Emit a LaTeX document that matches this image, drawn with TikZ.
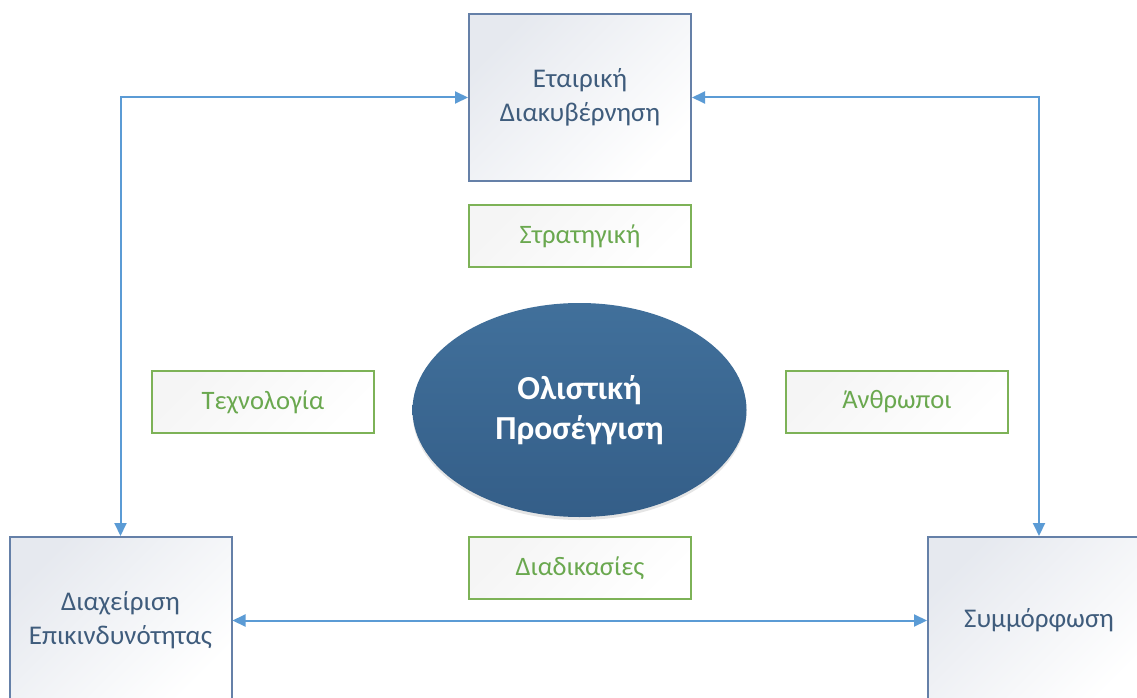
\documentclass[tikz,border=0pt]{standalone}
\usepackage{fontspec}
\setmainfont{Carlito}
\usetikzlibrary{arrows.meta,shapes.geometric,shadows}
\definecolor{arrowblue}{HTML}{5B9BD5}
\definecolor{boxline}{HTML}{6580A8}
\definecolor{boxtext}{HTML}{3F5C7C}
\definecolor{boxtop}{HTML}{E6E9EF}
\definecolor{greenline}{HTML}{7DB257}
\definecolor{greentext}{HTML}{6AA84F}
\definecolor{ovaltop}{HTML}{41709B}
\definecolor{ovalbot}{HTML}{345E88}
\tikzset{
  mainbox/.style={draw=boxline, line width=2pt, minimum width=222pt, minimum height=167pt,
    left color=boxtop, right color=white, shading angle=45,
    text=boxtext, align=center, font=\fontsize{27}{34}\selectfont, inner sep=0pt},
  tagbox/.style={draw=greenline, line width=2pt, minimum width=222pt, minimum height=62pt,
    left color=black!4, right color=white, shading angle=45,
    text=greentext, font=\fontsize{26.6}{32}\selectfont, inner sep=0pt},
  core/.style={ellipse, draw=none, minimum width=334pt, minimum height=214pt,
    top color=ovaltop, bottom color=ovalbot, text=white, align=center,
    font=\bfseries\fontsize{33.6}{40}\selectfont, inner sep=0pt,
    drop shadow={opacity=0.2, shadow xshift=0pt, shadow yshift=-3pt}},
  link/.style={draw=arrowblue, line width=2pt,
    {Triangle[length=13pt,width=12pt]}-{Triangle[length=13pt,width=12pt]}},
}
\begin{document}
\begin{tikzpicture}[x=1pt,y=-1pt]
\clip (0,0) rectangle (1137,698);
\useasboundingbox (0,0) rectangle (1137,698);
\fill[white] (0,0) rectangle (1137,698);

% the three governance areas
\node[mainbox] (gov)  at (580,97.5)   {Εταιρική\\Διακυβέρνηση};
\node[mainbox] (risk) at (120.5,620.5) {Διαχείριση\\Επικινδυνότητας};
\node[mainbox] (comp) at (1039,620.5) {Συμμόρφωση};

% the four pillars around the centre
\node[tagbox] (strat) at (580,236)  {Στρατηγική};
\node[tagbox] (tech)  at (263,402)  {Τεχνολογία};
\node[tagbox] (people) at (897,402) {Άνθρωποι};
\node[tagbox] (proc)  at (580,568)  {Διαδικασίες};

% the centre
\node[core] (hol) at (579.5,410) {Ολιστική\\Προσέγγιση};

% two-way links between the areas
\draw[link] (gov.west) -| (risk.north);
\draw[link] (gov.east) -| (comp.north);
\draw[link] (risk.east) -- (comp.west);
\end{tikzpicture}
\end{document}
